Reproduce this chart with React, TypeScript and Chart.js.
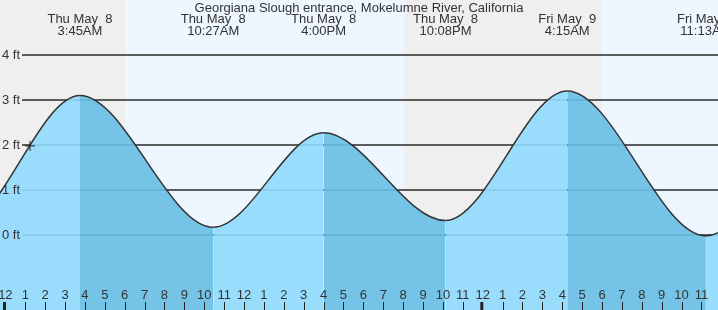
import React, { useEffect, useRef } from 'react';
import { Chart, registerables } from 'chart.js';

Chart.register(...registerables);

const TITLE = 'Georgiana Slough entrance, Mokelumne River, California';

// hours since Thu May 8, 00:00 (incl. one extreme before / after the visible window)
const tideTimes = [-8.4, -2.3, 3.75, 10.45, 16.0, 22.13, 28.25, 35.22, 41.3, 47.5];
const tideHeights = [2.4, 0.16, 3.1, 0.17, 2.27, 0.32, 3.2, -0.02, 2.4, 0.3];

const extremeTimes = [3.75, 10.45, 16.0, 22.13, 28.25, 35.22];
const extremeDays = ['Thu May  8', 'Thu May  8', 'Thu May  8', 'Thu May  8', 'Fri May  9', 'Fri May  9'];
const extremeLabels = ['3:45AM', '10:27AM', '4:00PM', '10:08PM', '4:15AM', '11:13AM'];

const hourTicks = [
  0, 1, 2, 3, 4, 5, 6, 7, 8, 9, 10, 11, 12, 13, 14, 15, 16, 17, 18, 19, 20, 21, 22, 23,
  24, 25, 26, 27, 28, 29, 30, 31, 32, 33, 34, 35,
];
const hourLabels = [
  '12', '1', '2', '3', '4', '5', '6', '7', '8', '9', '10', '11',
  '12', '1', '2', '3', '4', '5', '6', '7', '8', '9', '10', '11',
  '12', '1', '2', '3', '4', '5', '6', '7', '8', '9', '10', '11',
];
const midnightTicks = [0, 24];

const nightStarts = [-1, 20.05];
const nightEnds = [6.0, 29.98];

const feetTicks = [0, 1, 2, 3, 4];
const feetLabels = ['0 ft', '1 ft', '2 ft', '3 ft', '4 ft'];

const markerTimes = [1.24];
const markerHeights = [1.98];

const X_MIN = -0.27;
const X_MAX = 35.83;
const Y_MIN = -1.667;
const Y_MAX = 5.222;

const FONT = '13px "Liberation Sans", Arial, Helvetica, sans-serif';
const TEXT = '#333333';
const DAY_BG = '#eef7ff';
const NIGHT_BG = '#efefef';
const FILL_LIGHT = 'rgba(144,218,253,0.91)';
const FILL_DARK = 'rgba(104,190,229,0.91)';

const backgroundPlugin = {
  id: 'tideBackground',
  beforeDraw(chart: any) {
    const { ctx, chartArea, scales } = chart;
    const x = scales.x;
    ctx.save();
    ctx.fillStyle = DAY_BG;
    ctx.fillRect(chartArea.left, chartArea.top, chartArea.right - chartArea.left, chartArea.bottom - chartArea.top);
    ctx.fillStyle = NIGHT_BG;
    for (let i = 0; i < nightStarts.length; i++) {
      const x0 = Math.max(chartArea.left, x.getPixelForValue(nightStarts[i]));
      const x1 = Math.min(chartArea.right, x.getPixelForValue(nightEnds[i]));
      ctx.fillRect(Math.round(x0), chartArea.top, Math.round(x1) - Math.round(x0), chartArea.bottom - chartArea.top);
    }
    ctx.restore();
  },
  beforeDatasetsDraw(chart: any) {
    const { ctx, chartArea, scales } = chart;
    const y = scales.y;
    ctx.save();
    ctx.strokeStyle = '#2a2a2a';
    ctx.lineWidth = 1.5;
    for (const v of feetTicks) {
      const py = y.getPixelForValue(v);
      ctx.beginPath();
      ctx.moveTo(chartArea.left + 22, py);
      ctx.lineTo(chartArea.right, py);
      ctx.stroke();
    }
    ctx.restore();
  },
  afterDatasetsDraw(chart: any) {
    const { ctx, chartArea, scales } = chart;
    const x = scales.x;
    const y = scales.y;
    ctx.save();
    ctx.font = FONT;
    ctx.fillStyle = TEXT;
    ctx.textBaseline = 'middle';

    // y labels
    ctx.textAlign = 'left';
    feetTicks.forEach((v, i) => {
      ctx.fillText(feetLabels[i], chartArea.left + 2, y.getPixelForValue(v));
    });

    // title
    ctx.textAlign = 'center';
    ctx.fillText(TITLE, (chartArea.left + chartArea.right) / 2, 8);

    // extreme labels
    extremeTimes.forEach((t, i) => {
      const px = x.getPixelForValue(t);
      ctx.fillText(extremeDays[i], px, 19);
      ctx.fillText(extremeLabels[i], px, 31);
    });

    // hour labels & ticks
    hourTicks.forEach((h, i) => {
      const px = x.getPixelForValue(h);
      ctx.fillStyle = TEXT;
      ctx.fillText(hourLabels[i], px, 295);
      ctx.strokeStyle = '#222222';
      const bold = midnightTicks.includes(h);
      ctx.lineWidth = bold ? 3 : 1;
      const sx = bold ? px - 0.9 : Math.round(px) + 0.5;
      ctx.beginPath();
      ctx.moveTo(sx, 302);
      ctx.lineTo(sx, chartArea.bottom);
      ctx.stroke();
    });
    ctx.restore();
  },
};

export default function App() {
  const canvasRef = useRef<HTMLCanvasElement | null>(null);

  useEffect(() => {
    if (!canvasRef.current) return;
    const chart = new Chart(canvasRef.current, {
      type: 'line',
      data: {
        datasets: [
          {
            type: 'scatter',
            data: markerTimes.map((t, i) => ({ x: t, y: markerHeights[i] })),
            pointStyle: 'cross',
            pointRadius: 5,
            borderColor: '#222222',
            borderWidth: 1,
            showLine: false,
          } as any,
          {
            type: 'line',
            data: tideTimes.map((t, i) => ({ x: t, y: tideHeights[i] })),
            borderColor: '#333333',
            borderWidth: 1.5,
            pointRadius: 0,
            cubicInterpolationMode: 'monotone',
            fill: 'start',
            backgroundColor: FILL_LIGHT,
            segment: {
              backgroundColor: (c: any) => (c.p1.parsed.y < c.p0.parsed.y ? FILL_DARK : FILL_LIGHT),
            },
          } as any,
        ],
      },
      options: {
        animation: false,
        responsive: false,
        devicePixelRatio: 1,
        events: [],
        layout: { padding: 0, autoPadding: false },
        scales: {
          x: { type: 'linear', min: X_MIN, max: X_MAX, display: false },
          y: { type: 'linear', min: Y_MIN, max: Y_MAX, display: false },
        },
        plugins: {
          legend: { display: false },
          tooltip: { enabled: false },
          title: { display: false },
        },
      },
      plugins: [backgroundPlugin],
    });
    return () => chart.destroy();
  }, []);

  return (
    <div style={{ position: 'absolute', left: 0, top: 0, width: 718, height: 310 }}>
      <canvas ref={canvasRef} width={718} height={310} style={{ display: 'block' }} />
    </div>
  );
}
